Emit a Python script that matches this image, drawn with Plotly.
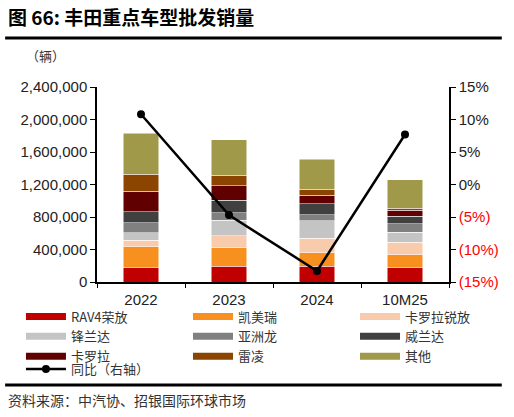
import plotly.graph_objects as go

years = ["2022", "2023", "2024", "10M25"]

rav4 = [177000, 193000, 193000, 177000]
camry = [255000, 226000, 164000, 156000]
corolla_cross = [82000, 152000, 181000, 156000]
frontlander = [90000, 189000, 214000, 123000]
avalon = [123000, 95000, 78000, 103000]
wildlander = [136000, 152000, 132000, 95000]
corolla = [255000, 177000, 107000, 74000]
levin = [210000, 132000, 74000, 21000]
others = [502000, 432000, 366000, 354000]
yoy = [10.8, -4.7, -13.3, 7.7]

# name, values, colour, legend column
series = [
    ("RAV4荣放", rav4, "#C00000", "legend"),
    ("凯美瑞", camry, "#F7901E", "legend2"),
    ("卡罗拉锐放", corolla_cross, "#F8CBAD", "legend3"),
    ("锋兰达", frontlander, "#C4C4C4", "legend"),
    ("亚洲龙", avalon, "#808080", "legend2"),
    ("威兰达", wildlander, "#404040", "legend3"),
    ("卡罗拉", corolla, "#600000", "legend"),
    ("雷凌", levin, "#8B4500", "legend2"),
    ("其他", others, "#A0994A", "legend3"),
]

pct_ticks = [-15, -10, -5, 0, 5, 10, 15]
pct_text = [f'<span style="color:#FF0000">({-v}%)</span>' if v < 0 else f"{v}%" for v in pct_ticks]

cjk = "Noto Sans CJK SC"
latin = "Liberation Sans, Arial, " + cjk

fig = go.Figure()
for name, vals, color, leg in series:
    fig.add_trace(go.Bar(
        x=years, y=vals, marker=dict(color=color, line=dict(color="white", width=0.5)),
        showlegend=False,
    ))
    # wide swatch for the legend
    fig.add_trace(go.Scatter(
        x=[None], y=[None], mode="lines", name=name, legend=leg,
        line=dict(color=color, width=7),
    ))

fig.add_trace(go.Scatter(
    x=years, y=yoy, yaxis="y2", mode="lines+markers", name="同比（右轴）", legend="legend4",
    line=dict(color="black", width=2.5), marker=dict(color="black", size=8),
))

leg_style = dict(
    orientation="v", xanchor="left", yanchor="top", traceorder="normal",
    font=dict(family=cjk, size=13, color="#333333"), itemwidth=40,
    bgcolor="rgba(0,0,0,0)",
)

fig.update_layout(
    width=514, height=417,
    margin=dict(l=97, r=65, t=87, b=135, autoexpand=False),
    plot_bgcolor="white", paper_bgcolor="white",
    barmode="stack", bargap=0.6,
    font=dict(family=latin, size=15, color="#222222"),
    xaxis=dict(
        showline=True, linecolor="black", linewidth=1.5,
        ticks="outside", ticklen=4, tickcolor="black", tickson="boundaries",
        tickfont=dict(size=15), ticklabelstandoff=3,
    ),
    yaxis=dict(
        range=[0, 2400000], dtick=400000, tickformat=",",
        showline=True, linecolor="black", linewidth=1.5, showgrid=False, zeroline=False,
        ticks="outside", ticklen=5, tickcolor="black", tickfont=dict(size=15),
    ),
    yaxis2=dict(
        overlaying="y", side="right", range=[-15, 15],
        tickvals=pct_ticks, ticktext=pct_text,
        showline=True, linecolor="black", linewidth=1.5, showgrid=False, zeroline=False,
        ticks="outside", ticklen=5, tickcolor="black", tickfont=dict(size=15),
    ),
    legend=dict(x=-0.216, y=-0.1, **leg_style),
    legend2=dict(x=0.2585, y=-0.1, **leg_style),
    legend3=dict(x=0.733, y=-0.1, **leg_style),
    legend4=dict(x=-0.216, y=-0.37, **leg_style),
    annotations=[
        dict(text="<b>图 66: 丰田重点车型批发销量</b>", xref="paper", yref="paper",
             x=-0.258, y=1.36, xanchor="left", yanchor="middle", showarrow=False,
             font=dict(family=cjk, size=19, color="black")),
        dict(text="（辆）", xref="paper", yref="paper",
             x=-0.145, y=1.164, xanchor="center", yanchor="middle", showarrow=False,
             font=dict(family=cjk, size=13, color="#333333")),
        dict(text="资料来源：中汽协、招银国际环球市场", xref="paper", yref="paper",
             x=-0.258, y=-0.605, xanchor="left", yanchor="middle", showarrow=False,
             font=dict(family=cjk, size=14, color="#333333")),
    ],
    shapes=[
        dict(type="line", xref="paper", yref="paper", x0=-0.261, x1=1.15, y0=1.251, y1=1.251,
             line=dict(color="black", width=3)),
        dict(type="line", xref="paper", yref="paper", x0=-0.261, x1=1.15, y0=-0.528, y1=-0.528,
             line=dict(color="black", width=3)),
    ],
)

# drop the browser's default 8px body margin so the figure sits at the page origin
fig.write_html("out.html", config={"displayModeBar": False},
               post_script="document.body.style.margin='0';")
